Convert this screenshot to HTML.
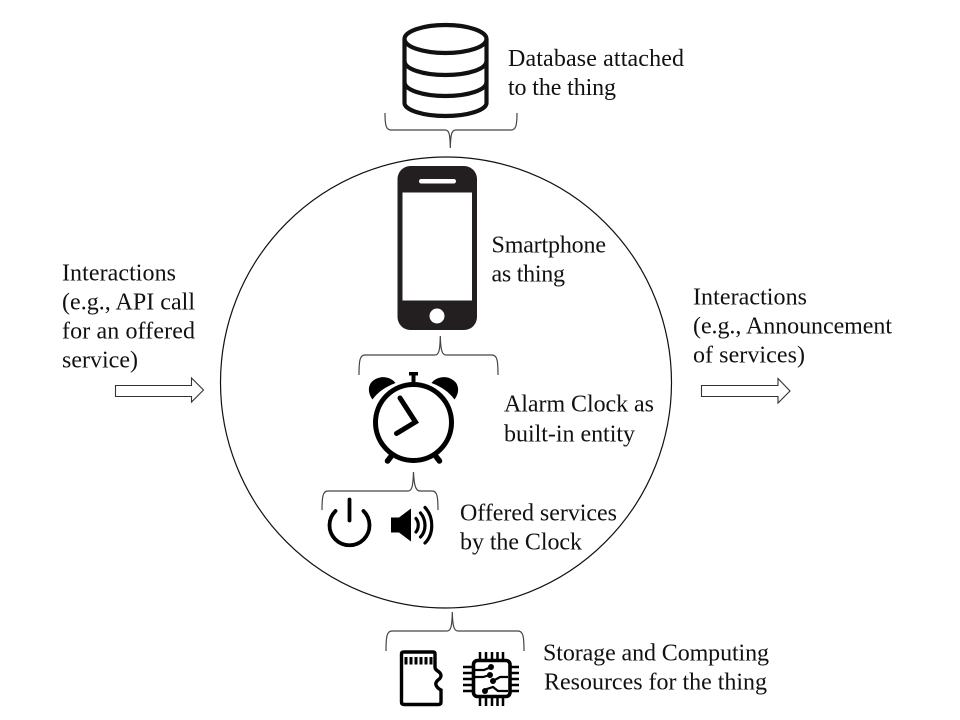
<!DOCTYPE html>
<html><head><meta charset="utf-8">
<style>
html,body{margin:0;padding:0;background:#fff;}
svg{display:block;}
text{font-family:"Liberation Serif",serif;font-size:24px;fill:#111;}
</style></head>
<body>
<svg width="960" height="720" viewBox="0 0 960 720" xmlns="http://www.w3.org/2000/svg">
<rect width="960" height="720" fill="#fff"/>
<circle cx="446" cy="382.5" r="225.5" fill="none" stroke="#111" stroke-width="1.2"/>

<!-- database -->
<g fill="none" stroke="#111" stroke-width="4.2">
<ellipse cx="445.500" cy="39" rx="41" ry="14"/>
<path d="M404.500 39V103C404.500 110 423 116 445.500 116S486.500 110 486.500 103V39"/>
<path d="M404.500 61C404.500 69 423 75 445.500 75S486.500 69 486.500 61"/>
<path d="M404.500 82C404.500 90 423 96 445.500 96S486.500 90 486.500 82"/>
</g>

<!-- brackets -->
<g fill="none" stroke="#444" stroke-width="1.2">
<path d="M385 113C385 125 386 130 391 130H445C449 130 450 133 450.300 148C450.600 133 452 130 456 130H511C516 130 517 125 517 113"/>
<path d="M359 375C359 360 360 355 365 355H435C439 355 440 350 440.300 336C440.600 350 442 355 446 355H492C497 355 498 360 498 375"/>
<path d="M322 510C322 496 323 491 328 491H408C412 491 413 486 413.500 472C414 486 416 491 420 491H432C437 491 438 496 438 510"/>
<path d="M386 651C386 636 387 631 392 631H447C451 631 452 626 452.300 612C452.600 626 454 631 458 631H518C523 631 524 636 524 651"/>
</g>

<!-- phone -->
<rect x="397.500" y="166" width="79.500" height="164" rx="13" fill="#231f20"/>
<rect x="402.500" y="192.500" width="69.500" height="108" fill="#fff"/>
<rect x="419" y="179" width="37" height="4.500" rx="2.200" fill="#fff"/>
<circle cx="437" cy="316" r="7.500" fill="#fff"/>

<!-- clock -->
<g fill="none" stroke="#000">
<circle cx="413.500" cy="422.500" r="38" stroke-width="5"/>
<path d="M400 398L415.500 422L396.500 433.500" stroke-width="5" stroke-linecap="round" stroke-linejoin="miter"/>
<path d="M391 456.500L387.500 461M436 456.500L439.500 461" stroke-width="5.500" stroke-linecap="round"/>
</g>
<path d="M409 372H418V375.500H415.500V382H411.500V375.500H409Z" fill="#000"/>
<path d="M372.500 399.500C367 392 368 384 374 380C381 375 391 377 395.500 383C385 387 378 392 372.500 399.500Z" fill="#000"/>
<path d="M454.500 399.500C460 392 459 384 453 380C446 375 436 377 431.500 383C442 387 449 392 454.500 399.500Z" fill="#000"/>

<!-- power -->
<g fill="none" stroke="#000" stroke-width="3.800" stroke-linecap="round">
<path d="M349.500 499.500V520.500"/>
<path d="M335.500 511A20 20 0 1 0 363.500 511"/>
</g>

<!-- speaker -->
<path d="M391 517.500H399L411 508.500V541.500L399 532.500H391Z" fill="#000"/>
<g fill="none" stroke="#000" stroke-width="3.200" stroke-linecap="round">
<path d="M416 518.500C419 522 419 528 416 532"/>
<path d="M420.500 513C426.500 520 426.500 531 420.500 537"/>
<path d="M425 507.500C434 517 434 534 425 543"/>
</g>

<!-- sd card -->
<path d="M401.500 654Q401.500 652 404 652H433Q435 652 435 654V667Q435 669 437 670.500Q441 673 441 675.500Q441 678 438 680Q435 683 436 685Q437 688 441 690V702Q441 704.500 438.500 704.500H404Q401.500 704.500 401.500 702Z" fill="none" stroke="#000" stroke-width="3.400"/>
<path d="M406 657V664.500M411 657V664.500M416 657V664.500M421 657V664.500M426 657V664.500M431 657V664.500" stroke="#000" stroke-width="3" fill="none"/>

<!-- chip -->
<g fill="none" stroke="#000">
<rect x="473.500" y="660.500" width="36.500" height="36" rx="4" stroke-width="3.600"/>
<path d="M480 652V659M486 652V659M492 652V659M497.500 652V659M503 652V659M480 698V706M486 698V706M492 698V706M497.500 698V706M503 698V706M463 667H472M463 673H472M463 679H472M463 685H472M463 691H472M511 667H519M511 673H519M511 679H519M511 685H519M511 691H519" stroke-width="2.500"/>
<path d="M475 670H484L491 667M475 677H483L490 675M508 677H500L493 681M508 691H498L493 687L487 689L485 691" stroke-width="2.200"/>
</g>
<g fill="#000"><circle cx="491" cy="667" r="3"/><circle cx="490" cy="675" r="3"/><circle cx="493" cy="681" r="3"/><circle cx="485" cy="691" r="3"/></g>

<!-- arrows -->
<g fill="#fff" stroke="#333" stroke-width="1.100">
<path d="M115.500 385.500H191.500V378L203.500 390L191.500 402V396.500H115.500Z"/>
<path d="M701.500 385.500H778V378.500L790 391L778 403V396.500H701.500Z"/>
</g>

<text x="508" y="66" textLength="176">Database attached</text>
<text x="508" y="95" textLength="108">to the thing</text>
<text x="491.500" y="252.500" textLength="114.500">Smartphone</text>
<text x="491.500" y="281.500" textLength="73.500">as thing</text>
<text x="62" y="280.500" textLength="114">Interactions</text>
<text x="62" y="309.500" textLength="133">(e.g., API call</text>
<text x="62" y="338.500" textLength="133">for an offered</text>
<text x="62" y="367.500" textLength="76">service)</text>
<text x="693" y="304.500" textLength="114">Interactions</text>
<text x="693" y="333.500" textLength="199">(e.g., Announcement</text>
<text x="693" y="362.500" textLength="112">of services)</text>
<text x="504" y="411.500" textLength="150">Alarm Clock as</text>
<text x="504" y="441.500" textLength="131">built-in entity</text>
<text x="460" y="520.500" textLength="157">Offered services</text>
<text x="460" y="549.500" textLength="122">by the Clock</text>
<text x="543" y="660.500" textLength="226">Storage and Computing</text>
<text x="544" y="689.500" textLength="223">Resources for the thing</text>
</svg>
</body></html>
